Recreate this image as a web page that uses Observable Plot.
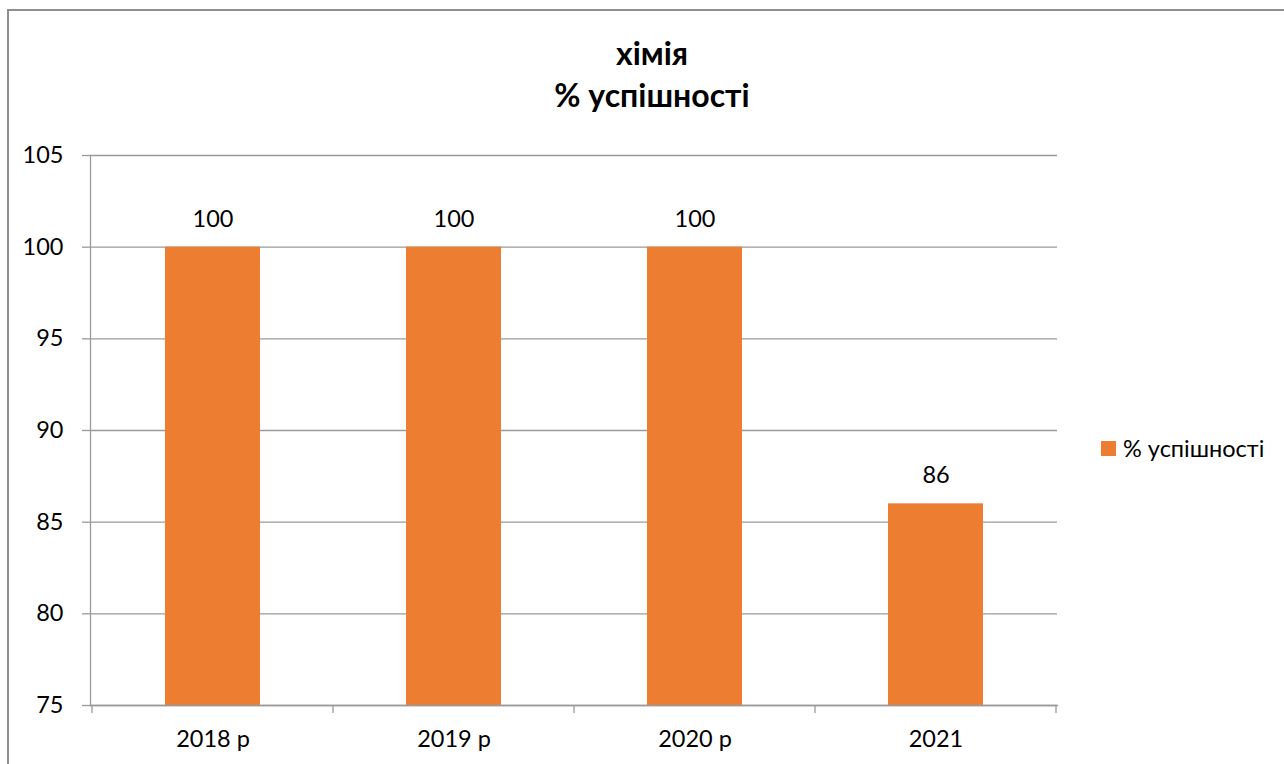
<!DOCTYPE html>
<html><head><meta charset="utf-8">
<script src="https://cdn.jsdelivr.net/npm/d3@7"></script>
<script src="https://cdn.jsdelivr.net/npm/@observablehq/plot@0.6"></script>
<style>
body{margin:0;background:#fff;font-family:Lato,"Open Sans",sans-serif;}
#wrap{position:relative;width:1284px;height:764px;overflow:hidden;}
#border{position:absolute;left:7px;top:9px;width:1400px;height:900px;border-left:2px solid #8f8f8f;border-top:2px solid #8f8f8f;}
#title{position:absolute;left:0;width:1304px;top:32px;text-align:center;font-weight:bold;font-size:32px;line-height:42px;color:#000;}
#legend{position:absolute;left:1101px;top:436px;height:24px;font-size:23.5px;display:flex;align-items:center;color:#000;}
#legend .sw{width:15px;height:15px;margin-right:7px;}
#chart{position:absolute;left:0;top:0;}
</style></head>
<body><div id="wrap"><div id="border"></div><div id="chart"></div><div id="title"></div><div id="legend"></div></div>
<script>
const categories = ["2018 р", "2019 р", "2020 р", "2021"];
const values = [100, 100, 100, 86];
const yTicks = [75, 80, 85, 90, 95, 100, 105];
const yDomain = [75, 105];
const seriesName = "% успішності";
const titleLines = ["хімія", "% успішності"];
const barColor = "#ED7D31";
const lineColor = "#9a9a9a";

const data = categories.map((c, i) => ({category: c, value: values[i]}));

function bandEdgeTicks(index, scales, channels, dims) {
  const x = scales.x;
  const step = x.step ? x.step() : (dims.width - dims.marginLeft - dims.marginRight) / categories.length;
  const y0 = dims.height - dims.marginBottom;
  const edges = categories.map(c => x(c)).concat([x(categories[categories.length - 1]) + step]);
  const g = d3.create("svg:g").attr("stroke", lineColor).attr("stroke-width", 1.3);
  for (const e of edges) {
    g.append("line").attr("x1", e).attr("x2", e).attr("y1", y0).attr("y2", y0 + 8);
  }
  return g.node();
}

const plot = Plot.plot({
  width: 1284, height: 764,
  marginLeft: 90, marginRight: 227, marginTop: 155, marginBottom: 59,
  style: {fontFamily: "Lato, 'Open Sans', sans-serif", fontSize: "23.5px", color: "#000", background: "transparent", overflow: "visible"},
  x: {type: "band", domain: categories, padding: 0, label: null},
  y: {domain: yDomain, ticks: yTicks, label: null},
  marks: [
    Plot.gridY(yTicks, {stroke: lineColor, strokeOpacity: 1, strokeWidth: 1.3}),
    Plot.barY(data, {x: "category", y1: yDomain[0], y2: "value", fill: barColor, insetLeft: 73, insetRight: 73}),
    Plot.text(data, {x: "category", y: "value", text: d => String(d.value), dy: -28, fontSize: 23.5, fill: "#000"}),
    Plot.axisY(yTicks, {tickSize: 8, tickPadding: 19, stroke: lineColor, strokeWidth: 1.3, fontSize: 23.5, label: null}),
    Plot.axisX({tickSize: 0, tickPadding: 25, fontSize: 23.5, label: null}),
    Plot.frame({anchor: "left", stroke: lineColor, strokeWidth: 1.3}),
    Plot.frame({anchor: "bottom", stroke: lineColor, strokeWidth: 1.3}),
    bandEdgeTicks
  ]
});
document.getElementById("chart").appendChild(plot);

const t = document.getElementById("title");
titleLines.forEach(s => { const d = document.createElement("div"); d.textContent = s; t.appendChild(d); });

const lg = document.getElementById("legend");
const sw = document.createElement("div"); sw.className = "sw"; sw.style.background = barColor;
const lt = document.createElement("span"); lt.textContent = seriesName;
lg.appendChild(sw); lg.appendChild(lt);
</script>
</body></html>
